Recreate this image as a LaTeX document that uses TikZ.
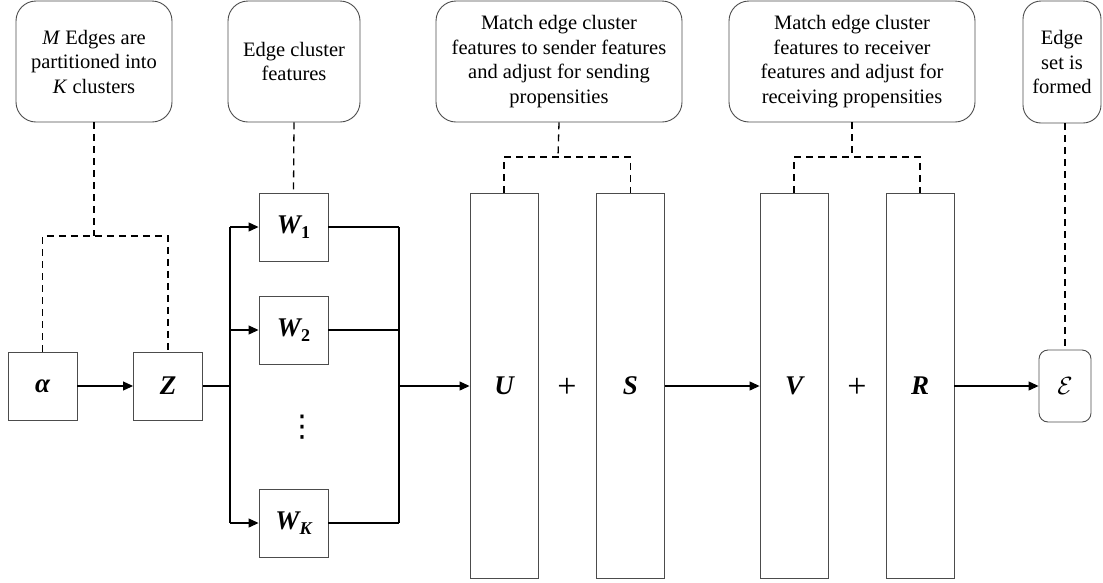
\documentclass[tikz,border=0pt]{standalone}
\usepackage{fontspec}
\setmainfont{Liberation Serif}
\newfontfamily\symfont{DejaVu Sans}
\usetikzlibrary{arrows.meta}
\begin{document}
\begin{tikzpicture}[x=1pt,y=-1pt,
  lbl/.style={draw=black!70, line width=0.9pt, rounded corners=20pt, align=center,
    inner sep=0pt, font=\fontsize{20.5}{24.5}\selectfont},
  sq/.style={draw=black!70, line width=0.9pt, minimum width=69pt, minimum height=68pt,
    inner sep=0pt, font=\fontsize{27}{27}\selectfont\bfseries\itshape},
  tall/.style={draw=black!70, line width=0.9pt, minimum width=68pt, minimum height=385pt,
    inner sep=0pt, font=\fontsize{27}{27}\selectfont\bfseries\itshape},
  plus/.style={font=\fontsize{34}{34}\selectfont, inner sep=0pt},
  con/.style={line width=1.1pt},
  arr/.style={con, -{Triangle[length=10pt,width=9pt]}},
  dsh/.style={line width=1.3pt, dash pattern=on 7pt off 5pt}]
\useasboundingbox (0,0) rectangle (1103,582);
% label boxes
\node[lbl, minimum width=156pt, minimum height=121pt] (b1) at (94,61.5)
  {\textit{M} Edges are\\partitioned into\\\textit{K} clusters};
\node[lbl, minimum width=132pt, minimum height=121pt] (b2) at (294,61.5)
  {Edge cluster\\features};
\node[lbl, minimum width=246pt, minimum height=121pt] (b3) at (559,61.5)
  {Match edge cluster\\features to sender features\\and adjust for sending\\propensities};
\node[lbl, minimum width=246pt, minimum height=121pt] (b4) at (852,61.5)
  {Match edge cluster\\features to receiver\\features and adjust for\\receiving propensities};
\node[lbl, minimum width=78pt, minimum height=122pt, rounded corners=18pt] (b5) at (1062,62)
  {Edge\\set is\\formed};
% main nodes
\node[sq] (al) at (42.5,386) {α};
\node[sq] (z) at (168,386) {Z};
\node[sq] (w1) at (293.5,227) {W\raisebox{-5pt}{\fontsize{18}{18}\selectfont\upshape 1}};
\node[sq] (w2) at (293.5,330) {W\raisebox{-5pt}{\fontsize{18}{18}\selectfont\upshape 2}};
\node[sq] (wk) at (293.5,523) {W\raisebox{-5pt}{\fontsize{18}{18}\selectfont K}};
\node[font=\fontsize{30}{30}\selectfont\symfont, inner sep=0pt] (dots) at (302,427) {⋮};
\node[tall] (u) at (504,385.5) {U};
\node[tall] (s) at (630.5,385.5) {S};
\node[tall] (v) at (794,385.5) {V};
\node[tall] (r) at (920,385.5) {R};
\node[plus] (p1) at (567,388) {+};
\node[plus] (p2) at (857,388) {+};
\node[draw=black!70, line width=0.9pt, rounded corners=9pt, minimum width=52pt,
  minimum height=72pt, inner sep=0pt, font=\fontsize{26}{26}\selectfont] (e) at (1065,386) {$\mathcal{E}$};
% coordinates
\coordinate (bl) at (230,386);
\coordinate (br) at (399,386);
\coordinate (j1) at (94,236);
\coordinate (j3) at (558,157);
\coordinate (j4) at (852,157);
% solid connectors
\draw[arr] (al) -- (z);
\draw[con] (z.east) -- (bl);
\draw[con] (bl |- w1) -- (bl |- wk);
\draw[arr] (bl |- w1) -- (w1.west);
\draw[arr] (bl |- w2) -- (w2.west);
\draw[arr] (bl |- wk) -- (wk.west);
\draw[con] (w1.east) -- (br |- w1);
\draw[con] (w2.east) -- (br |- w2);
\draw[con] (wk.east) -- (br |- wk);
\draw[con] (br |- w1) -- (br |- wk);
\draw[arr] (br) -- (u.west |- br);
\draw[arr] (s.east |- br) -- (v.west |- br);
\draw[arr] (r.east |- br) -- (e.west);
% dashed connectors
\draw[dsh] (b1.south) -- (j1);
\draw[dsh] (al.north) -- (al.north |- j1) -- (z.north |- j1) -- (z.north);
\draw[dsh] (b2.south) -- (w1.north);
\draw[dsh] (b3.south) -- (j3);
\draw[dsh] (u.north) -- (u.north |- j3) -- (s.north |- j3) -- (s.north);
\draw[dsh] (b4.south) -- (j4);
\draw[dsh] (v.north) -- (v.north |- j4) -- (r.north |- j4) -- (r.north);
\draw[dsh] (b5.south -| e.north) -- (e.north);
\end{tikzpicture}
\end{document}
